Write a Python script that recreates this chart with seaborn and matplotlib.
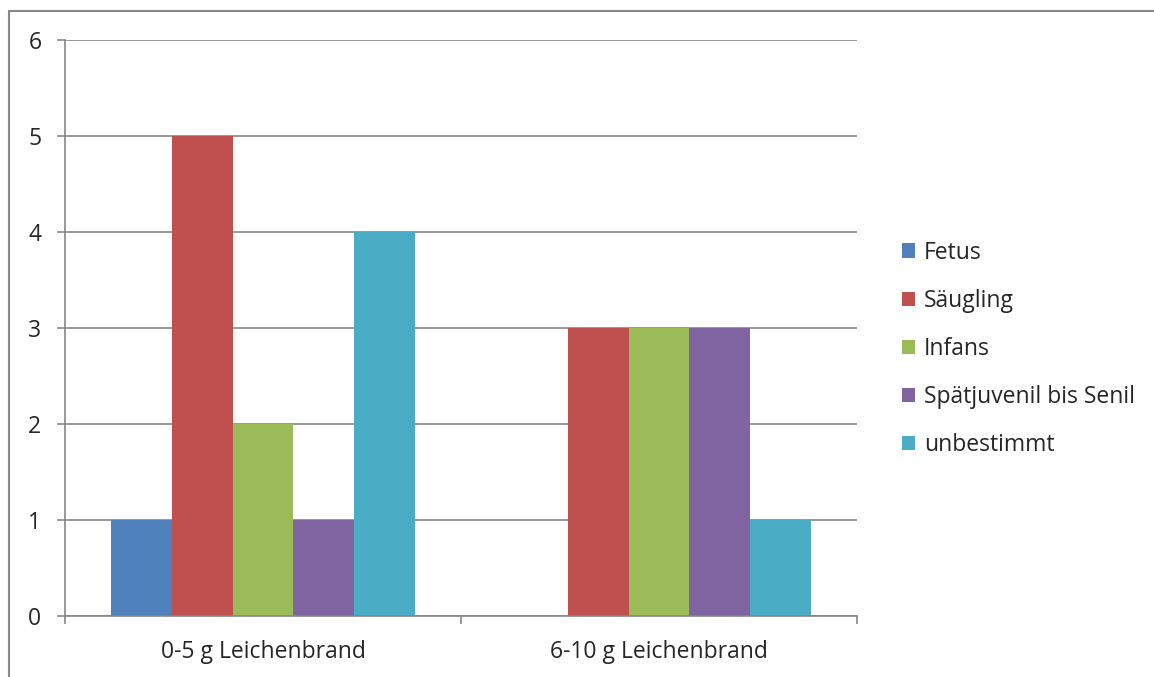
import pandas as pd
import matplotlib.pyplot as plt
import seaborn as sns
from matplotlib.lines import Line2D
from matplotlib.patches import Patch

# data
categories = ["0-5 g Leichenbrand", "6-10 g Leichenbrand"]
groups = ["Fetus", "Säugling", "Infans", "Spätjuvenil bis Senil", "unbestimmt"]
values_0_5 = [1, 5, 2, 1, 4]
values_6_10 = [0, 3, 3, 3, 1]
colors = ["#4F81BD", "#C0504D", "#9BBB59", "#8064A2", "#4BACC6"]

rows = []
for g, a, b in zip(groups, values_0_5, values_6_10):
    rows.append({"Kategorie": categories[0], "Gruppe": g, "Anzahl": a})
    rows.append({"Kategorie": categories[1], "Gruppe": g, "Anzahl": b})
df = pd.DataFrame(rows)

sns.set_style("white")
plt.rcParams["font.family"] = ["Open Sans", "DejaVu Sans"]

fig = plt.figure(figsize=(11.54, 6.77), dpi=100)
ax = fig.add_axes([65 / 1154, 61 / 677, 792 / 1154, 576 / 677])

sns.barplot(
    data=df,
    x="Kategorie",
    y="Anzahl",
    hue="Gruppe",
    order=categories,
    hue_order=groups,
    palette=colors,
    width=0.77,
    gap=0,
    saturation=1,
    linewidth=0,
    ax=ax,
)

ax.set_xlim(-0.5, 1.5)
ax.set_ylim(0, 6)
ax.set_yticks(range(0, 7))
ax.yaxis.grid(True, color="#868686", linewidth=1.2)
ax.set_axisbelow(True)
ax.set_xlabel("")
ax.set_ylabel("")

for side in ["top", "right"]:
    ax.spines[side].set_visible(False)
for side in ["left", "bottom"]:
    ax.spines[side].set_color("#868686")
    ax.spines[side].set_linewidth(1.2)

fs = 16.5
ax.tick_params(axis="y", direction="out", length=6, width=1.2, color="#868686",
               pad=11, labelsize=fs, left=True)
ax.set_xticks([-0.5, 0.5, 1.5])
ax.set_xticklabels([])
ax.tick_params(axis="x", which="major", direction="out", length=6, width=1.2,
               color="#868686", bottom=True)
ax.set_xticks([0, 1], minor=True)
ax.set_xticklabels(categories, minor=True)
ax.tick_params(axis="x", which="minor", length=0, pad=17, labelsize=fs)

if ax.get_legend() is not None:
    ax.get_legend().remove()
handles = [Patch(facecolor=c, edgecolor="none") for c in colors]
fig.legend(
    handles, groups,
    loc="upper left",
    bbox_to_anchor=(881 / 1154, 1 - 220 / 677),
    frameon=False,
    fontsize=fs,
    handlelength=0.57,
    handleheight=0.57,
    handletextpad=0.4,
    labelspacing=1.05,
)

# outer chart frame
fig.add_artist(Line2D([9 / 1154, 9 / 1154], [0, 1 - 11 / 677], color="#888888", linewidth=1.5))
fig.add_artist(Line2D([9 / 1154, 1], [1 - 11 / 677, 1 - 11 / 677], color="#888888", linewidth=1.5))

plt.savefig("out.png", dpi=100)
